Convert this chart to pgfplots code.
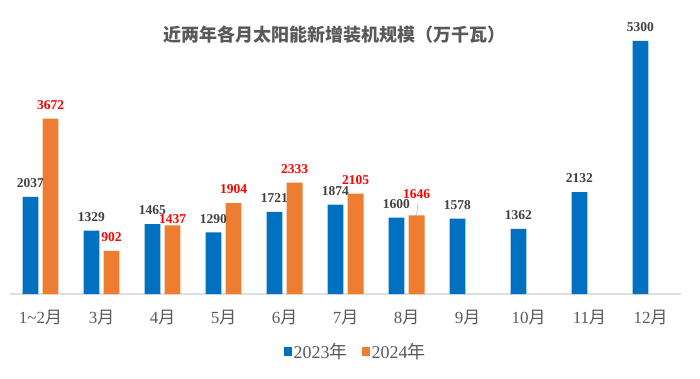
\documentclass[border=0pt]{standalone}
\usepackage{pgfplots}
\pgfplotsset{compat=1.18}
\usepackage{pgfplotstable}
\usepackage{fontspec}
\setmainfont{Liberation Serif}
\newfontfamily\cjk{Noto Sans CJK SC}
\newcommand\yue{{\cjk 月}}
\newcommand\nian{{\cjk 年}}
\definecolor{c23}{HTML}{0070C0}
\definecolor{c24}{HTML}{ED7D31}
\definecolor{lab}{HTML}{404040}
\definecolor{txt}{HTML}{595959}
\definecolor{red24}{HTML}{FF0000}

\pgfplotstableread{
x y off
0 2037 0
1 1329 0
2 1465 0
3 1290 0
4 1721 0
5 1874 0
6 1600 0
7 1578 0
8 1362 0
9 2132 0
10 5300 0
}\dataA
\pgfplotstableread{
x y off
0 3672 0
1 902 0
2 1437 -7
3 1904 0
4 2333 0
5 2105 0
6 1646 8
}\dataB

\begin{document}
\begin{tikzpicture}
\path[use as bounding box] (0,0) rectangle (700pt,378pt);
\begin{axis}[
  at={(10pt,84pt)}, anchor=south west,
  scale only axis, width=671pt, height=274pt,
  xmin=-0.5, xmax=10.5, ymin=0, ymax=5740,
  ybar, bar width=0.26,
  axis y line=none, axis x line=bottom,
  x axis line style={-, draw=gray!25, line width=1.2pt},
  xtick={0,...,10},
  xticklabels={1\textasciitilde 2\yue,3\yue,4\yue,5\yue,6\yue,7\yue,8\yue,9\yue,10\yue,11\yue,12\yue},
  major tick length=0pt,
  xticklabel style={font=\fontsize{17}{20}\selectfont, text=txt, yshift=-13pt},
  clip=false,
  nodes near coords,
  /pgf/number format/assume math mode=true,
  /pgf/number format/1000 sep={},
  every node near coord/.append style={font=\bfseries\fontsize{13.5}{16}\selectfont, inner sep=0pt, anchor=south, yshift=9pt+\off pt},
  legend columns=2,
  legend style={at={(0.515,-0.212)}, anchor=center, draw=none, fill=none,
    font=\fontsize{18}{21}\selectfont, text=txt,
    nodes={inner xsep=2pt},
    legend cell align=left},
  legend image code/.code={\draw[#1, draw=none] (0pt,-4pt) rectangle (8pt,5pt);},
]
\addplot[bar shift=-0.165, fill=c23, draw=none,
  visualization depends on={\thisrow{off}\as\off},
  every node near coord/.append style={text=lab}]
  table[x=x,y=y]{\dataA};
\addlegendentry{2023\nian\makebox[12pt]{}}
\addplot[bar shift=0.165, fill=c24, draw=none,
  visualization depends on={\thisrow{off}\as\off},
  every node near coord/.append style={text=red24}]
  table[x=x,y=y]{\dataB};
\addlegendentry{2024\nian}
\draw[gray!70, line width=0.5pt] (axis cs:6.165,1646) ++(0pt,0.5pt) -- ++(1.5pt,11.5pt);
\node[font=\cjk\bfseries\fontsize{18}{21}\selectfont, text=txt] at (rel axis cs:0.484,0.945) {近两年各月太阳能新增装机规模（万千瓦）};
\end{axis}
\end{tikzpicture}
\end{document}
